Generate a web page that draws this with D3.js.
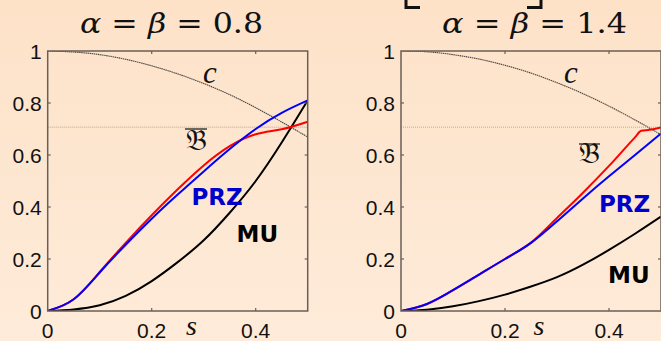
<!DOCTYPE html>
<html>
<head>
<meta charset="utf-8">
<script src="https://cdn.jsdelivr.net/npm/d3@7"></script>
<style>
  html, body { margin: 0; padding: 0; background: #fde6cf; }
  svg { display: block; }
</style>
</head>
<body>
<svg id="chart" width="661" height="341"></svg>
<script>
// abscissa samples shared by the smooth curves
const sGrid = [0, 0.05, 0.1, 0.15, 0.2, 0.25, 0.3, 0.35, 0.4, 0.45, 0.5];

// panel alpha = beta = 0.8
const cLeft   = [1.000, 0.996, 0.986, 0.968, 0.943, 0.912, 0.875, 0.832, 0.782, 0.727, 0.669];
const bLeft   = [0, 0.045, 0.150, 0.262, 0.368, 0.468, 0.560, 0.634, 0.680, 0.699, 0.728];
const przLeft = [0, 0.045, 0.148, 0.255, 0.355, 0.448, 0.537, 0.623, 0.700, 0.762, 0.810];
const muLeft  = [0, 0.006, 0.022, 0.058, 0.115, 0.188, 0.272, 0.378, 0.500, 0.648, 0.810];

// panel alpha = beta = 1.4
const cRight   = [1.000, 0.997, 0.986, 0.969, 0.945, 0.915, 0.878, 0.836, 0.788, 0.735, 0.678];
const sBRight  = [0, 0.05, 0.1, 0.15, 0.2, 0.25, 0.3, 0.35, 0.4, 0.45, 0.462, 0.478, 0.5];
const bRight   = [0, 0.027, 0.080, 0.140, 0.200, 0.263, 0.358, 0.455, 0.558, 0.668, 0.693, 0.697, 0.706];
const przRight = [0, 0.027, 0.080, 0.140, 0.200, 0.262, 0.345, 0.433, 0.518, 0.600, 0.683];
const muRight  = [0, 0.005, 0.018, 0.038, 0.063, 0.094, 0.130, 0.178, 0.235, 0.297, 0.363];

// level of the horizontal reference line (1/sqrt 2)
const refLevel = 0.7071;

const xTicks = [0, 0.2, 0.4];
const yTicks = [0, 0.2, 0.4, 0.6, 0.8, 1];
const yTickLabels = ["0", "0.2", "0.4", "0.6", "0.8", "1"];
const titles = ["0.8", "1.4"];

const svg = d3.select("#chart");

// soft peach backdrop, a touch darker at the top
const defs = svg.append("defs");
const grad = defs.append("linearGradient").attr("id", "bg").attr("x1", 0).attr("y1", 0).attr("x2", 0).attr("y2", 1);
grad.append("stop").attr("offset", "0%").attr("stop-color", "#fde2c8");
grad.append("stop").attr("offset", "100%").attr("stop-color", "#feebd9");
svg.append("rect").attr("width", 661).attr("height", 341).attr("fill", "url(#bg)");

const panels = [
  { left: 47.7, title: titles[0], c: cLeft, b: { s: sGrid, v: bLeft, curve: d3.curveNatural }, prz: przLeft, mu: muLeft,
    titleX: [80, 263], cLab: [203, 83], bLab: [185, 150, 129, 207], przLab: [191.5, 205], muLab: [236.5, 241.5], sLab: 191.5 },
  { left: 401, title: titles[1], c: cRight, b: { s: sBRight, v: bRight, curve: d3.curveMonotoneX }, prz: przRight, mu: muRight,
    titleX: [442, 627], cLab: [564, 83], bLab: [579, 163, 144, 600], przLab: [599, 211.5], muLab: [608, 283], sLab: 539 }
];

const axisColor = "#6a5f58";
const tickFont = "'Liberation Sans', Arial, sans-serif";
const serif = "'Liberation Serif', 'DejaVu Serif', serif";
const mathFont = "'DejaVu Serif', serif";

panels.forEach((p, i) => {
  const x = d3.scaleLinear().domain([0, 0.5]).range([p.left, p.left + 260]);
  const y = d3.scaleLinear().domain([0, 1]).range([311, 51]);
  const g = svg.append("g");

  const clipId = "clip" + i;
  defs.append("clipPath").attr("id", clipId).append("rect")
    .attr("x", x(0)).attr("y", y(1)).attr("width", x(0.5) - x(0)).attr("height", y(0) - y(1));

  const plot = g.append("g").attr("clip-path", `url(#${clipId})`);

  const line = (sArr, vArr, curve) => d3.line()
    .x((d, k) => x(sArr[k])).y(d => y(d)).curve(curve || d3.curveNatural)(vArr);

  // horizontal reference level
  plot.append("line")
    .attr("x1", x(0)).attr("x2", x(0.5)).attr("y1", y(refLevel)).attr("y2", y(refLevel))
    .attr("stroke", "#a8978a").attr("stroke-width", 0.8).attr("stroke-dasharray", "1,1");

  // c curve (thin dotted)
  plot.append("path").attr("d", line(sGrid, p.c))
    .attr("fill", "none").attr("stroke", "#4a4440").attr("stroke-width", 1.1).attr("stroke-dasharray", "1.5,0.6");

  // MU, PRZ and B-bar curves
  plot.append("path").attr("d", line(sGrid, p.mu))
    .attr("fill", "none").attr("stroke", "#000").attr("stroke-width", 2);
  plot.append("path").attr("d", line(p.b.s, p.b.v, p.b.curve))
    .attr("fill", "none").attr("stroke", "#ff0000").attr("stroke-width", 2);
  plot.append("path").attr("d", line(sGrid, p.prz))
    .attr("fill", "none").attr("stroke", "#0000ff").attr("stroke-width", 2);

  // frame
  g.append("rect")
    .attr("x", x(0)).attr("y", y(1)).attr("width", x(0.5) - x(0)).attr("height", y(0) - y(1))
    .attr("fill", "none").attr("stroke", axisColor).attr("stroke-width", 1.5);

  // inward ticks on all four sides
  const tl = 3;
  xTicks.filter(t => t > 0).forEach(t => {
    g.append("line").attr("x1", x(t)).attr("x2", x(t)).attr("y1", y(0)).attr("y2", y(0) - tl)
      .attr("stroke", axisColor).attr("stroke-width", 1.2);
    g.append("line").attr("x1", x(t)).attr("x2", x(t)).attr("y1", y(1)).attr("y2", y(1) + tl)
      .attr("stroke", axisColor).attr("stroke-width", 1.2);
  });
  yTicks.filter(t => t > 0 && t < 1).forEach(t => {
    g.append("line").attr("x1", x(0)).attr("x2", x(0) + tl).attr("y1", y(t)).attr("y2", y(t))
      .attr("stroke", axisColor).attr("stroke-width", 1.2);
    g.append("line").attr("x1", x(0.5)).attr("x2", x(0.5) - tl).attr("y1", y(t)).attr("y2", y(t))
      .attr("stroke", axisColor).attr("stroke-width", 1.2);
  });

  // tick labels
  yTicks.forEach((t, k) => {
    g.append("text").attr("x", x(0) - 6).attr("y", y(t)).attr("dy", "0.36em")
      .attr("text-anchor", "end").attr("font-family", tickFont).attr("font-size", 21)
      .attr("fill", "#111").text(yTickLabels[k]);
  });
  xTicks.forEach(t => {
    g.append("text").attr("x", x(t)).attr("y", 338)
      .attr("text-anchor", "middle").attr("font-family", tickFont).attr("font-size", 21)
      .attr("fill", "#111").text(t === 0 ? "0" : d3.format(".1f")(t));
  });

  // axis variable
  g.append("text").attr("x", p.sLab).attr("y", 334.5).attr("text-anchor", "middle")
    .attr("font-family", serif).attr("font-style", "italic").attr("font-size", 28)
    .attr("fill", "#111").text("s");

  // title
  const tt = g.append("text").attr("x", p.titleX[0]).attr("y", 33)
    .attr("font-family", mathFont).attr("font-size", 27).attr("fill", "#111")
    .attr("textLength", p.titleX[1] - p.titleX[0]).attr("lengthAdjust", "spacingAndGlyphs");
  tt.append("tspan").attr("font-style", "italic").text("α");
  tt.append("tspan").text(" = ");
  tt.append("tspan").attr("font-style", "italic").text("β");
  tt.append("tspan").text(" = " + p.title);

  // curve labels
  g.append("text").attr("x", p.cLab[0]).attr("y", p.cLab[1])
    .attr("font-family", serif).attr("font-style", "italic").attr("font-size", 31)
    .attr("fill", "#111").text("c");
  g.append("text").attr("x", (p.bLab[0] + p.bLab[3]) / 2).attr("y", p.bLab[1]).attr("text-anchor", "middle")
    .attr("font-family", "'DejaVu Sans', 'DejaVu Serif', serif").attr("font-size", 29)
    .attr("fill", "#111").text("𝔅");
  g.append("line").attr("x1", p.bLab[0]).attr("x2", p.bLab[3]).attr("y1", p.bLab[2]).attr("y2", p.bLab[2])
    .attr("stroke", "#111").attr("stroke-width", 1.2);
  g.append("text").attr("x", p.przLab[0]).attr("y", p.przLab[1])
    .attr("font-family", "'DejaVu Sans', Verdana, sans-serif").attr("font-weight", "bold").attr("font-size", 23)
    .attr("fill", "#0000cc").text("PRZ");
  g.append("text").attr("x", p.muLab[0]).attr("y", p.muLab[1])
    .attr("font-family", "'DejaVu Sans', Verdana, sans-serif").attr("font-weight", "bold").attr("font-size", 23)
    .attr("fill", "#000").text("MU");
});

// bracket corners peeking in at the top of the right panel
svg.append("path")
  .attr("d", "M406,0 V7.5 H420 M541,0 V7.5 H527")
  .attr("fill", "none").attr("stroke", "#111").attr("stroke-width", 3);
</script>
</body>
</html>
